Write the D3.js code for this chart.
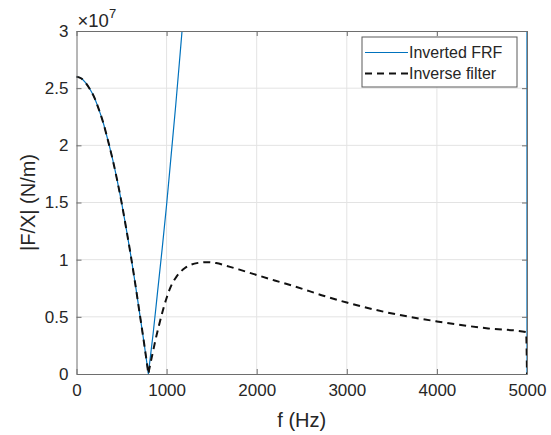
<!DOCTYPE html>
<html>
<head>
<meta charset="utf-8">
<script src="https://cdn.jsdelivr.net/npm/d3@7"></script>
<style>
  html, body { margin: 0; padding: 0; background: #fff; }
  svg { display: block; font-family: Arial, "Liberation Sans", Helvetica, sans-serif; }
</style>
</head>
<body>
<svg id="chart" width="551" height="435"></svg>
<script>
// Frequency (Hz) and stiffness magnitude |F/X| (N/m) for the inverted FRF
const frfFreq = [0, 50, 100, 150, 200, 250, 300, 350, 400, 450, 500, 550, 600, 650, 700, 750, 790, 798,
                 806, 850, 900, 950, 1000, 1050, 1100, 1150, 1200, 1500, 2000, 3000, 4000, 4990, 5000];
const frfMag  = [2.60e7, 2.587e7, 2.549e7, 2.49e7, 2.415e7, 2.31e7, 2.189e7, 2.04e7, 1.881e7, 1.70e7, 1.501e7, 1.28e7, 1.049e7, 0.80e7, 0.535e7, 0.27e7, 0.045e7, 0,
                 0.058e7, 0.35e7, 0.72e7, 1.09e7, 1.48e7, 1.91e7, 2.34e7, 2.80e7, 3.27e7, 6.5e7, 13.6e7, 34.0e7, 62.4e7, 98.6e7, 0];

// Frequency (Hz) and magnitude (N/m) for the inverse filter
const invFreq = [0, 50, 100, 150, 200, 250, 300, 350, 400, 450, 500, 550, 600, 650, 700, 750, 790, 798,
                 806, 820, 850, 880, 920, 960, 1000, 1050, 1100, 1150, 1200, 1260, 1350, 1430, 1550, 1670,
                 1800, 2000, 2200, 2400, 2750, 3000, 3450, 4000, 4550, 4990, 5000];
const invMag  = [2.60e7, 2.587e7, 2.549e7, 2.49e7, 2.415e7, 2.31e7, 2.189e7, 2.04e7, 1.881e7, 1.70e7, 1.501e7, 1.28e7, 1.049e7, 0.80e7, 0.535e7, 0.27e7, 0.045e7, 0,
                 0.036e7, 0.09e7, 0.20e7, 0.31e7, 0.44e7, 0.56e7, 0.665e7, 0.77e7, 0.84e7, 0.89e7, 0.925e7, 0.952e7, 0.972e7, 0.978e7, 0.97e7, 0.945e7,
                 0.915e7, 0.866e7, 0.818e7, 0.772e7, 0.682e7, 0.625e7, 0.538e7, 0.46e7, 0.40e7, 0.367e7, 0];

const xTicks = [0, 1000, 2000, 3000, 4000, 5000];
const yTicks = [0, 0.5e7, 1e7, 1.5e7, 2e7, 2.5e7, 3e7];
const seriesNames = ["Inverted FRF", "Inverse filter"];
const xLabel = "f (Hz)";
const yLabel = "|F/X| (N/m)";

const W = 551, H = 435;
const margin = { left: 76.5, right: 24, top: 31, bottom: 61 };
const iw = W - margin.left - margin.right;
const ih = H - margin.top - margin.bottom;

const axisColor = "#6e6e6e";
const textColor = "#262626";
const gridColor = "#e3e3e3";
const blue = "#0072BD";

const svg = d3.select("#chart");
const g = svg.append("g").attr("transform", `translate(${margin.left},${margin.top})`);

const x = d3.scaleLinear().domain([0, 5000]).range([0, iw]);
const y = d3.scaleLinear().domain([0, 3e7]).range([ih, 0]);

// grid
g.append("g").selectAll("line").data(xTicks.slice(1, -1)).join("line")
  .attr("x1", d => x(d)).attr("x2", d => x(d)).attr("y1", 0).attr("y2", ih)
  .attr("stroke", gridColor).attr("stroke-width", 1);
g.append("g").selectAll("line").data(yTicks.slice(1, -1)).join("line")
  .attr("y1", d => y(d)).attr("y2", d => y(d)).attr("x1", 0).attr("x2", iw)
  .attr("stroke", gridColor).attr("stroke-width", 1);

// clip region for the curves
svg.append("defs").append("clipPath").attr("id", "plotClip")
  .append("rect").attr("x", -1).attr("y", 0).attr("width", iw + 2).attr("height", ih + 1);

const lineFrf = d3.line().x((d, i) => x(frfFreq[i])).y(d => y(d)).curve(d3.curveMonotoneX);
const lineInv = d3.line().x((d, i) => x(invFreq[i])).y(d => y(d)).curve(d3.curveMonotoneX);

const curves = g.append("g").attr("clip-path", "url(#plotClip)");
curves.append("path").datum(frfMag).attr("d", lineFrf)
  .attr("fill", "none").attr("stroke", blue).attr("stroke-width", 1.2);
curves.append("path").datum(invMag).attr("d", lineInv)
  .attr("fill", "none").attr("stroke", "#111").attr("stroke-width", 2)
  .attr("stroke-dasharray", "7,5");

// axes (box with inward ticks)
const tickLen = 5;
const xAxisB = d3.axisBottom(x).tickValues(xTicks).tickSizeInner(-tickLen).tickSizeOuter(0).tickPadding(10).tickFormat(d3.format("d"));
const xAxisT = d3.axisTop(x).tickValues(xTicks).tickSizeInner(-tickLen).tickSizeOuter(0).tickFormat("");
const yAxisL = d3.axisLeft(y).tickValues(yTicks).tickSizeInner(-tickLen).tickSizeOuter(0).tickPadding(8).tickFormat(d => d3.format("~g")(d / 1e7));
const yAxisR = d3.axisRight(y).tickValues(yTicks).tickSizeInner(-tickLen).tickSizeOuter(0).tickFormat("");

function styleAxis(sel) {
  sel.select(".domain").attr("stroke", axisColor).attr("stroke-width", 1);
  sel.selectAll(".tick line").attr("stroke", axisColor).attr("stroke-width", 1);
  sel.selectAll(".tick text").attr("fill", textColor).attr("font-size", 17)
    .attr("font-family", "Arial, 'Liberation Sans', sans-serif");
}
g.append("g").attr("transform", `translate(0,${ih})`).call(xAxisB).call(styleAxis);
g.append("g").call(xAxisT).call(styleAxis);
g.append("g").call(yAxisL).call(styleAxis);
g.append("g").attr("transform", `translate(${iw},0)`).call(yAxisR).call(styleAxis);

// exponent label
const expo = svg.append("text").attr("x", margin.left + 1).attr("y", 26.5)
  .attr("fill", textColor).attr("font-size", 18.5);
expo.append("tspan").text("×10");
expo.append("tspan").attr("font-size", 13).attr("dy", -8.5).text("7");

// axis titles
svg.append("text").attr("x", margin.left + iw / 2).attr("y", 427)
  .attr("text-anchor", "middle").attr("fill", textColor).attr("font-size", 20).text(xLabel);
svg.append("text").attr("transform", `translate(35,${margin.top + ih / 2}) rotate(-90)`)
  .attr("text-anchor", "middle").attr("fill", textColor).attr("font-size", 20).text(yLabel);

// legend
const leg = svg.append("g").attr("transform", "translate(362,37)");
leg.append("rect").attr("width", 155).attr("height", 50)
  .attr("fill", "#fff").attr("stroke", "#5a5a5a").attr("stroke-width", 1);
const legStyles = [
  { stroke: blue, width: 1.2, dash: null },
  { stroke: "#111", width: 2, dash: "7,5" }
];
seriesNames.forEach((name, i) => {
  const cy = 15.5 + i * 21;
  leg.append("line").attr("x1", 3).attr("x2", 46).attr("y1", cy).attr("y2", cy)
    .attr("stroke", legStyles[i].stroke).attr("stroke-width", legStyles[i].width)
    .attr("stroke-dasharray", legStyles[i].dash);
  leg.append("text").attr("x", 47).attr("y", cy + 5.5).attr("fill", textColor)
    .attr("font-size", 16).text(name);
});
</script>
</body>
</html>
